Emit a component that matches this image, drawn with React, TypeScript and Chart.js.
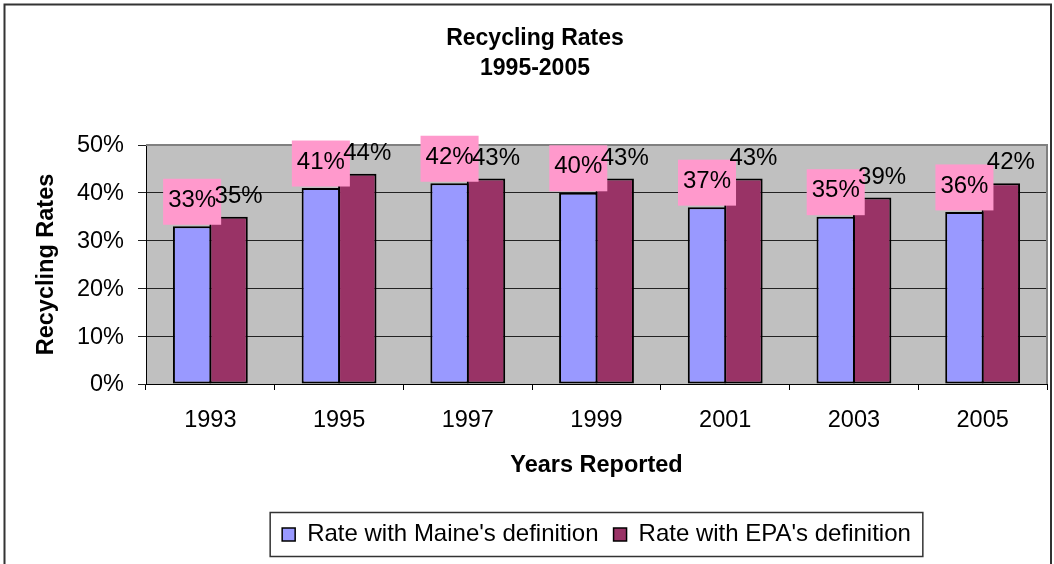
import React, { useEffect, useRef } from 'react';
import { Chart, registerables } from 'chart.js';

Chart.register(...registerables);

const years = ['1993', '1995', '1997', '1999', '2001', '2003', '2005'];
const maineRates = [33, 41, 42, 40, 37, 35, 36];
const epaRates = [35, 44, 43, 43, 43, 39, 42];
const seriesNames = ["Rate with Maine's definition", "Rate with EPA's definition"];
const titleLines = ['Recycling Rates', '1995-2005'];
const yAxisTitle = 'Recycling Rates';
const xAxisTitle = 'Years Reported';
const yMin = 0;
const yMax = 50;
const yStep = 10;

const FONT = "'Liberation Sans', Arial, sans-serif";

export default function App() {
  const ref = useRef<HTMLCanvasElement>(null);

  useEffect(() => {
    const canvas = ref.current;
    if (!canvas) return;

    const decor = {
      id: 'decor',
      beforeDraw(chart: any) {
        const { ctx, chartArea: a } = chart;
        ctx.save();
        ctx.fillStyle = '#ffffff';
        ctx.fillRect(0, 0, chart.width, chart.height);
        ctx.strokeStyle = '#333333';
        ctx.lineWidth = 2;
        ctx.strokeRect(4.5, 4.5, 1046.5, 700);
        ctx.fillStyle = '#C0C0C0';
        ctx.fillRect(a.left, a.top, a.right - a.left, a.bottom - a.top);
        ctx.restore();
      },
      beforeDatasetsDraw(chart: any) {
        const { ctx, chartArea: a } = chart;
        ctx.save();
        ctx.strokeStyle = '#808080';
        ctx.lineWidth = 2;
        ctx.beginPath();
        ctx.moveTo(a.left, a.top);
        ctx.lineTo(a.right, a.top);
        ctx.lineTo(a.right, a.bottom);
        ctx.stroke();
        ctx.restore();
      },
      afterDatasetsDraw(chart: any) {
        const ctx = chart.ctx;
        ctx.save();
        ctx.font = `24px ${FONT}`;
        ctx.textAlign = 'center';
        ctx.textBaseline = 'middle';
        const m0 = chart.getDatasetMeta(0);
        m0.data.forEach((bar: any, i: number) => {
          const text = maineRates[i] + '%';
          const w = ctx.measureText(text).width + 10;
          const h = 46;
          const bottom = bar.y - 1.5;
          ctx.fillStyle = '#FF99CC';
          ctx.fillRect(bar.x - w / 2, bottom - h, w, h);
          ctx.fillStyle = '#000000';
          ctx.fillText(text, bar.x, bottom - h / 2 - 1.5);
        });
        const m1 = chart.getDatasetMeta(1);
        ctx.fillStyle = '#000000';
        m1.data.forEach((bar: any, i: number) => {
          ctx.fillText(epaRates[i] + '%', bar.x + 10, bar.y - 20.5);
        });
        ctx.restore();
      },
      afterDraw(chart: any) {
        const lg = chart.legend;
        if (!lg || !lg.legendHitBoxes || !lg.legendHitBoxes.length) return;
        const hb = lg.legendHitBoxes;
        const first = hb[0];
        const last = hb[hb.length - 1];
        const mid = lg.top + 15 + 12;
        const left = first.left - 12;
        const right = last.left + last.width + 12;
        const ctx = chart.ctx;
        ctx.save();
        ctx.strokeStyle = '#333333';
        ctx.lineWidth = 1.5;
        ctx.strokeRect(left, mid - 22, right - left, 44);
        ctx.restore();
      },
    };

    const chart = new Chart(canvas, {
      type: 'bar',
      data: {
        labels: years,
        datasets: [
          {
            label: seriesNames[0],
            data: maineRates,
            backgroundColor: '#9999FF',
            borderColor: '#000000',
            borderWidth: 2,
            borderSkipped: false,
            categoryPercentage: 0.566,
            barPercentage: 1.0548,
          },
          {
            label: seriesNames[1],
            data: epaRates,
            backgroundColor: '#993366',
            borderColor: '#000000',
            borderWidth: 2,
            borderSkipped: false,
            categoryPercentage: 0.566,
            barPercentage: 1.0548,
          },
        ],
      },
      options: {
        responsive: false,
        animation: false,
        layout: { padding: { top: 0, left: 23, right: 7, bottom: 7.5 } },
        plugins: {
          tooltip: { enabled: false },
          title: {
            display: true,
            text: titleLines,
            color: '#000000',
            font: { family: FONT, size: 23, weight: 'bold', lineHeight: '30px' },
            padding: { top: 23.5, bottom: 61.5 },
          },
          legend: {
            display: true,
            position: 'bottom',
            fullSize: false,
            labels: {
              color: '#000000',
              font: { family: FONT, size: 24 },
              boxWidth: 13,
              boxHeight: 13,
              padding: 15,
              generateLabels: (c: any) =>
                Chart.defaults.plugins.legend.labels
                  .generateLabels(c)
                  .map((l: any) => ({ ...l, lineWidth: 1.5 })),
            },
          },
        },
        scales: {
          x: {
            offset: true,
            grid: {
              display: true,
              drawOnChartArea: false,
              drawTicks: true,
              tickLength: 6,
              color: '#000000',
              offset: true,
            },
            border: { display: true, color: '#000000', width: 1 },
            ticks: {
              color: '#000000',
              font: { family: FONT, size: 23.5 },
              padding: 16.9,
              maxRotation: 0,
              autoSkip: false,
            },
            title: {
              display: true,
              text: xAxisTitle,
              color: '#000000',
              font: { family: FONT, size: 23.5, weight: 'bold' },
              padding: { top: 0, bottom: 27.4 },
            },
            afterFit: (s: any) => {
              s.height = 123.5;
            },
          },
          y: {
            min: yMin,
            max: yMax,
            ticks: {
              stepSize: yStep,
              callback: (v: any) => v + '%',
              color: '#000000',
              font: { family: FONT, size: 23.5 },
              padding: 14,
              labelOffset: 1,
            },
            grid: { color: '#222222', lineWidth: 1, tickLength: 8, drawTicks: true },
            border: { display: true, color: '#000000', width: 1 },
            title: {
              display: true,
              text: yAxisTitle,
              color: '#000000',
              font: { family: FONT, size: 23.5, weight: 'bold' },
              padding: { top: 9.4, bottom: 0 },
            },
            afterFit: (s: any) => {
              s.width = 123;
            },
          },
        },
      },
      plugins: [decor],
    } as any);

    return () => {
      chart.destroy();
    };
  }, []);

  return (
    <div style={{ position: 'fixed', left: 0, top: 0, width: 1054, height: 564, background: '#ffffff' }}>
      <canvas ref={ref} width={1054} height={564} style={{ display: 'block' }} />
    </div>
  );
}
